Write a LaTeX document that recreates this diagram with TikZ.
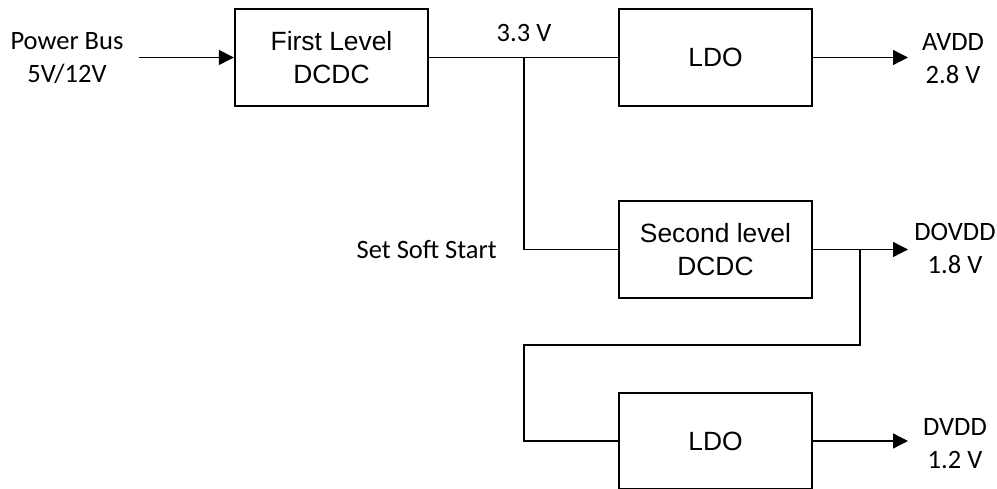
\documentclass[tikz,border=0pt]{standalone}
\usepackage{fontspec}
\setmainfont{Carlito}
\newfontfamily\boxfont{Liberation Sans}
\usetikzlibrary{arrows.meta}
\tikzset{
  blk/.style={draw, line width=2.4pt, minimum width=193pt, minimum height=97pt, inner sep=0pt, align=center, font=\boxfont\fontsize{26.4}{33}\selectfont},
  lbl/.style={inner sep=0pt, align=center, font=\fontsize{26.5}{33}\selectfont},
  wire/.style={line width=1.3pt},
  arr/.style={wire, -{Triangle[length=15pt,width=15pt]}}
}
\begin{document}
\begin{tikzpicture}[x=1pt,y=-1pt]
\useasboundingbox (0,0) rectangle (997,489);
\node[blk] (first) at (331.5,57.5) {First Level\\DCDC};
\node[blk] (ldoa) at (715.5,57.5) {LDO};
\node[blk] (second) at (715.5,249.5) {Second level\\DCDC};
\node[blk, minimum height=96pt] (ldob) at (715.5,441) {LDO};
\coordinate (pin) at (139,57.5);
\coordinate (ja) at (524,57.5);
\coordinate (tipa) at (908,57.5);
\coordinate (tipb) at (908,249.5);
\coordinate (jb) at (860,249.5);
\coordinate (ca) at (860,345);
\coordinate (cb) at (524,345);
\coordinate (tipc) at (908,441);
\draw[arr] (pin) -- (first.west);
\draw[wire] (first.east) -- (ldoa.west);
\draw[wire] (ja) |- (second.west);
\draw[arr] (ldoa.east) -- (tipa);
\draw[arr] (second.east) -- (tipb);
\draw[wire] (jb) -- (ca) -- (cb) |- (ldob.west);
\draw[arr] (ldob.east) -- (tipc);
\node[lbl] (pbus) at (67,58) {Power Bus\\5V/12V};
\node[lbl] (v33) at (524,33) {3.3 V};
\node[lbl] (avdd) at (953,59) {AVDD\\2.8 V};
\node[lbl, anchor=east] (soft) at (497,249.5) {Set Soft Start};
\node[lbl] (dovdd) at (955,249) {DOVDD\\1.8 V};
\node[lbl] (dvdd) at (955,444) {DVDD\\1.2 V};
\end{tikzpicture}
\end{document}
